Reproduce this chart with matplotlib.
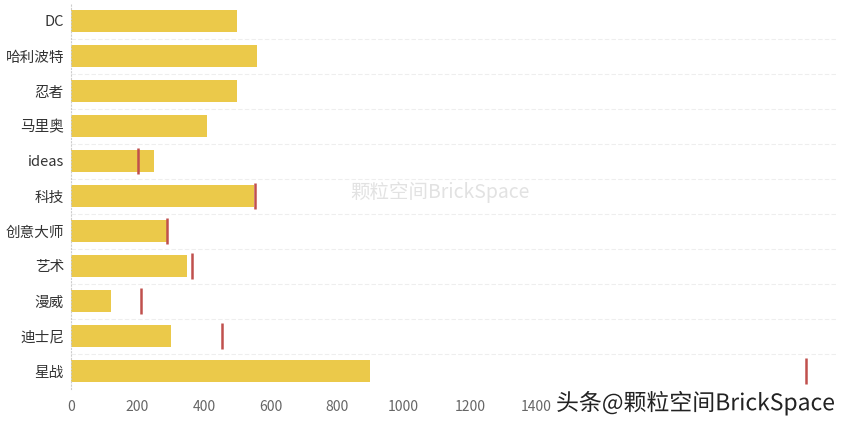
import matplotlib
matplotlib.use("Agg")
import matplotlib.pyplot as plt
import matplotlib.patheffects as pe

plt.rcParams['font.family'] = ['Noto Sans CJK SC', 'DejaVu Sans']

categories = ["DC", "哈利波特", "忍者", "马里奥", "ideas", "科技", "创意大师", "艺术", "漫威", "迪士尼", "星战"]
bar_values = [500, 560, 500, 410, 250, 550, 288, 350, 120, 300, 900]
marker_values = [None, None, None, None, 200, 553, 290, 365, 210, 455, 2210]
xticks = [0, 200, 400, 600, 800, 1000, 1200, 1400, 1600, 1800, 2000, 2200]
xtick_labels = ["0", "200", "400", "600", "800", "1000", "1200", "1400", "", "", "", ""]

W, H = 846, 426
fig = plt.figure(figsize=(W / 100, H / 100), dpi=100)
left_px, right_px, top_px, bot_px = 71, 836, 3.5, 388.5
ax = fig.add_axes([left_px / W, 1 - bot_px / H, (right_px - left_px) / W, (bot_px - top_px) / H])

n = len(categories)
ys = list(range(n))
ax.barh(ys, bar_values, height=0.63, color="#EBC94A", zorder=2)
for y, m in zip(ys, marker_values):
    if m is not None:
        ax.vlines(m, y - 0.37, y + 0.37, color="#C0504D", linewidth=1.8, zorder=3)

ax.set_ylim(n - 0.5, -0.5)
ax.set_xlim(0, 2300)
ax.set_yticks(ys)
ax.set_yticklabels(categories, fontsize=10.5, color="#333333")
ax.set_xticks(xticks)
ax.set_xticklabels(xtick_labels, fontsize=10, color="#666666")
ax.tick_params(axis='both', length=0)
ax.tick_params(axis='x', pad=8)
ax.tick_params(axis='y', pad=5)

for s in ['top', 'right', 'bottom']:
    ax.spines[s].set_visible(False)
ax.spines['left'].set_color('#cccccc')
ax.spines['left'].set_linestyle((0, (1, 2)))
ax.spines['left'].set_linewidth(0.8)

for b in [i + 0.5 for i in range(n - 1)]:
    ax.axhline(b, color="#eeeeee", linewidth=0.8, linestyle=(0, (4, 2)), zorder=1)

# faint centre watermark
fig.text(440 / W, 1 - 192 / H, "颗粒空间BrickSpace", fontsize=14, color="#e2e2e2",
         ha="center", va="center", zorder=0)
# corner watermark
fig.text(556 / W, 1 - 403 / H, "头条@颗粒空间BrickSpace", fontsize=16.5, color="#222222",
         ha="left", va="center", zorder=10,
         path_effects=[pe.withStroke(linewidth=2.5, foreground="white")])

fig.savefig("out.png", dpi=100)
